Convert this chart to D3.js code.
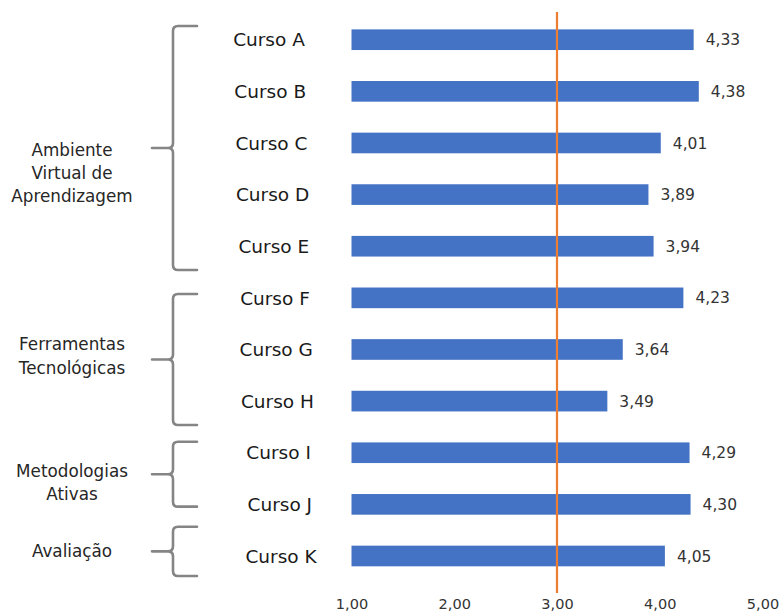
<!DOCTYPE html>
<html>
<head>
<meta charset="utf-8">
<script src="https://cdn.jsdelivr.net/npm/d3@7"></script>
<style>
  html, body { margin: 0; padding: 0; background: #fff; }
  svg { display: block; }
  text { font-family: "DejaVu Sans", sans-serif; }
</style>
</head>
<body>
<svg id="chart" width="783" height="614"></svg>
<script>
// Courses and their mean scores
const courses = ["Curso A", "Curso B", "Curso C", "Curso D", "Curso E", "Curso F",
                 "Curso G", "Curso H", "Curso I", "Curso J", "Curso K"];
const scores = [4.33, 4.38, 4.01, 3.89, 3.94, 4.23, 3.64, 3.49, 4.29, 4.30, 4.05];

// Thematic groups (label lines, first and last course of each)
const groupLines = [
  ["Ambiente", "Virtual de", "Aprendizagem"],
  ["Ferramentas", "Tecnológicas"],
  ["Metodologias", "Ativas"],
  ["Avaliação"]
];
const groupFirst = ["Curso A", "Curso F", "Curso I", "Curso K"];
const groupLast  = ["Curso E", "Curso H", "Curso J", "Curso K"];

// Axis
const xTicks = [1, 2, 3, 4, 5];
const xDomain = [1, 5];
const referenceValue = 3;

// Layout of the braces: pixel extension above the first / below the last bar centre,
// and vertical shift of each label block relative to the brace tip
const braceTopExt = [13.7, 3.8, 11, 29.3];
const braceBottomExt = [23.8, 23.9, 2.3, 20];
const labelShift = [25, -3.5, 8, 0];

const svg = d3.select("#chart");
const ptBR = d3.formatLocale({ decimal: ",", thousands: ".", grouping: [3], currency: ["R$ ", ""] });
const fmt = ptBR.format(".2f");

const x = d3.scaleLinear().domain(xDomain).range([351.5, 762.5]);
const y = d3.scaleBand().domain(courses).range([13.9, 581.8])
  .paddingInner(0.6).paddingOuter(0.3);
const yc = d => y(d) + y.bandwidth() / 2;

// Bars
svg.append("g").selectAll("rect")
  .data(courses)
  .join("rect")
  .attr("x", x(xDomain[0]))
  .attr("y", d => y(d))
  .attr("width", (d, i) => x(scores[i]) - x(xDomain[0]))
  .attr("height", y.bandwidth())
  .attr("fill", "#4472C4");

// Value labels
svg.append("g").selectAll("text")
  .data(courses)
  .join("text")
  .attr("x", (d, i) => x(scores[i]) + 12)
  .attr("y", d => yc(d))
  .attr("dy", "0.36em")
  .attr("font-size", 15.5)
  .attr("fill", "#333")
  .text((d, i) => fmt(scores[i]));

// Reference line at 3,00
svg.append("line")
  .attr("x1", x(referenceValue)).attr("x2", x(referenceValue))
  .attr("y1", 12).attr("y2", 593)
  .attr("stroke", "#ED7D31")
  .attr("stroke-width", 2.2);

// Bottom axis (labels only)
const axis = svg.append("g")
  .attr("transform", "translate(0,599)")
  .call(d3.axisBottom(x).tickValues(xTicks).tickSize(0).tickPadding(0).tickFormat(fmt));
axis.select(".domain").remove();
axis.selectAll("text")
  .attr("font-family", "DejaVu Sans, sans-serif")
  .attr("font-size", 14.5)
  .attr("fill", "#333")
  .attr("dy", "0.71em");

// Course labels (text boxes drift slightly right going down)
svg.append("g").selectAll("text")
  .data(courses)
  .join("text")
  .attr("x", (d, i) => 269 + i * 1.2)
  .attr("y", d => yc(d))
  .attr("dy", "0.36em")
  .attr("text-anchor", "middle")
  .attr("font-size", 18.5)
  .attr("fill", "#1a1a1a")
  .text(d => d);

// Braces and group labels
const bx = 173, armX = 197, tipX = 152, r = 5;
groupLines.forEach((lines, gi) => {
  const top = yc(groupFirst[gi]) - braceTopExt[gi];
  const bottom = yc(groupLast[gi]) + braceBottomExt[gi];
  const mid = (top + bottom) / 2;
  const p = d3.path();
  p.moveTo(armX, top);
  p.lineTo(bx + r, top);
  p.quadraticCurveTo(bx, top, bx, top + r);
  p.lineTo(bx, mid - r);
  p.quadraticCurveTo(bx, mid, bx - r, mid);
  p.lineTo(tipX, mid);
  p.moveTo(bx - r, mid);
  p.quadraticCurveTo(bx, mid, bx, mid + r);
  p.lineTo(bx, bottom - r);
  p.quadraticCurveTo(bx, bottom, bx + r, bottom);
  p.lineTo(armX, bottom);
  svg.append("path")
    .attr("d", p.toString())
    .attr("fill", "none")
    .attr("stroke", "#858585")
    .attr("stroke-width", 2.6)
    .attr("stroke-linecap", "round");

  const lh = 23.3;
  const c = mid + labelShift[gi];
  const t = svg.append("text")
    .attr("text-anchor", "middle")
    .attr("font-size", 16.8)
    .attr("fill", "#262626");
  lines.forEach((ln, li) => {
    t.append("tspan")
      .attr("x", 72)
      .attr("y", c + (li - (lines.length - 1) / 2) * lh)
      .attr("dy", "0.36em")
      .text(ln);
  });
});
</script>
</body>
</html>
